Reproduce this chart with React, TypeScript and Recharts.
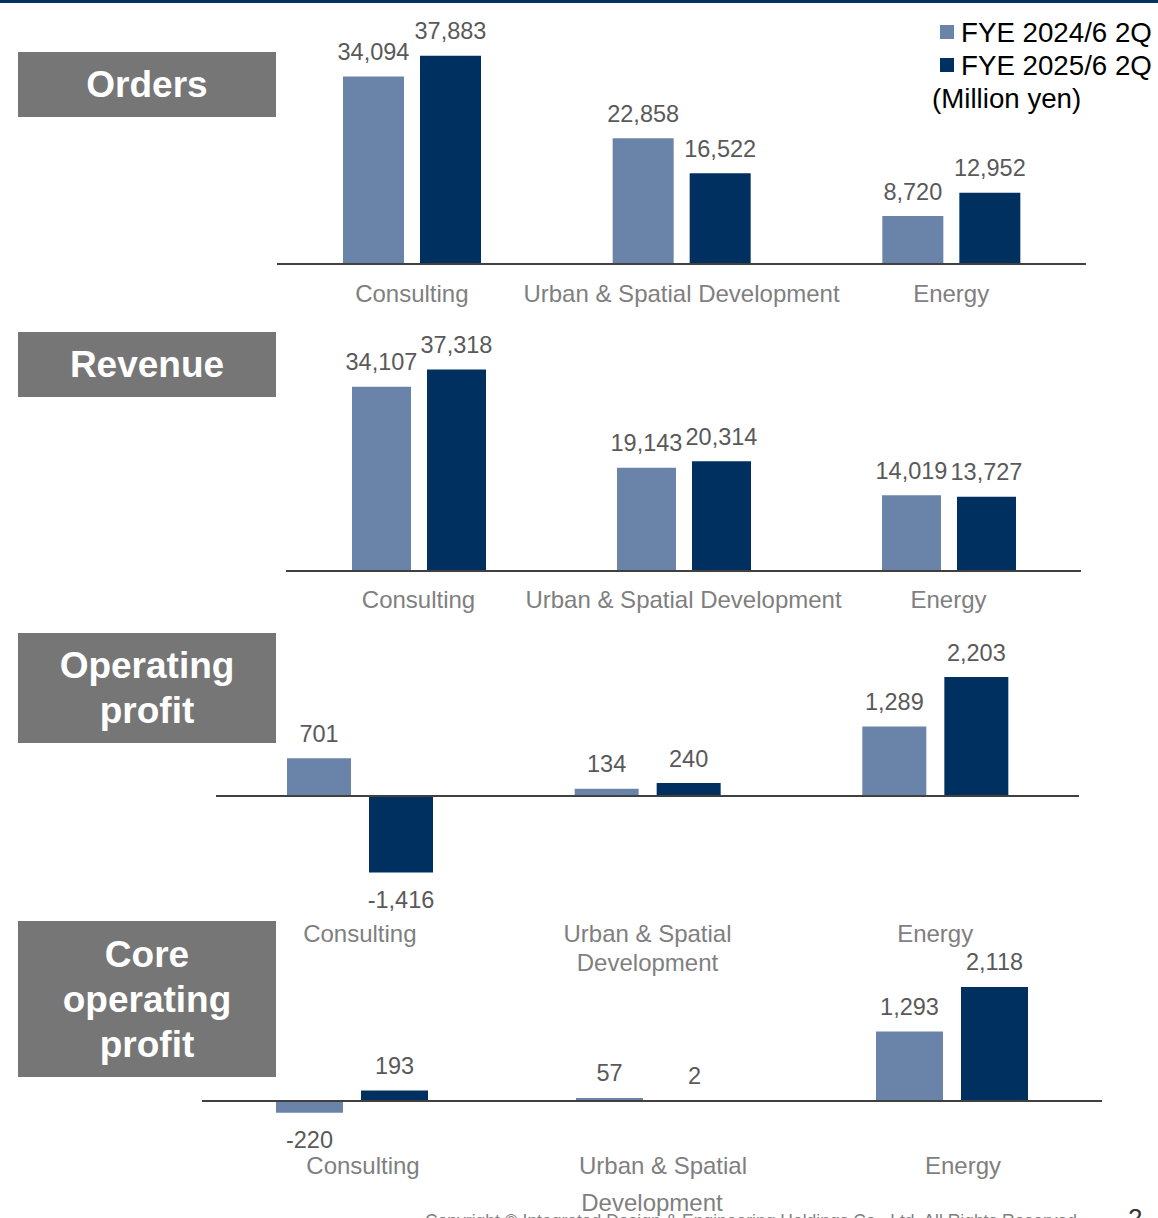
import React from 'react';
import { BarChart, Bar, XAxis, YAxis, ReferenceLine, LabelList, Legend } from 'recharts';

const categories = ['Consulting', 'Urban & Spatial Development', 'Energy'];
const seriesNames = ['FYE 2024/6 2Q', 'FYE 2025/6 2Q'];

const orders2024 = [34094, 22858, 8720];
const orders2025 = [37883, 16522, 12952];
const revenue2024 = [34107, 19143, 14019];
const revenue2025 = [37318, 20314, 13727];
const opProfit2024 = [701, 134, 1289];
const opProfit2025 = [-1416, 240, 2203];
const coreProfit2024 = [-220, 57, 1293];
const coreProfit2025 = [193, 2, 2118];

const LIGHT = '#6A83A9';
const DARK = '#003060';
const FONT = '"Liberation Sans", Arial, sans-serif';

const toRows = (a: number[], b: number[]) =>
    categories.map((name, i) => ({ name, prev: a[i], curr: b[i] }));

// value label above positive bars, below negative ones
const ValueLabel = (props: any) => {
    const vb = props.viewBox ?? props;
    const { x, y, width, height } = vb;
    const top = Math.min(y, y + height);
    const bottom = Math.max(y, y + height);
    const v = Number(props.value);
    const ty = v < 0 ? bottom + 35.5 : top - 16.5;
    return (
        <text x={x + width / 2} y={ty} textAnchor="middle" fill="#595959" fontSize={23.5} fontFamily={FONT}>
            {v.toLocaleString('en-US')}
        </text>
    );
};

// first line may be nudged (dx), the wrapped second line stays on the band centre
const makeTick = (wrap: boolean, lineGap: number, dx: number) => (props: any) => {
    const { x, y, payload } = props;
    const text = String(payload.value);
    const cut = text.lastIndexOf(' ');
    const lines = wrap && text.length > 12 && cut > 0 ? [text.slice(0, cut), text.slice(cut + 1)] : [text];
    return (
        <text x={x + dx} y={y} textAnchor="middle" fill="#7f7f7f" fontSize={24} fontFamily={FONT}>
            {lines.map((l, i) => (
                <tspan key={i} x={i === 0 ? x + dx : x} dy={i === 0 ? 8.5 : lineGap}>{l}</tspan>
            ))}
        </text>
    );
};

const LegendContent = ({ payload }: any) => (
    <div style={{ fontFamily: FONT, fontSize: 27.7, color: '#000', lineHeight: '33px' }}>
        {(payload || []).map((p: any) => (
            <div key={p.value} style={{ display: 'flex', alignItems: 'center', height: 33, whiteSpace: 'nowrap' }}>
                <span style={{ display: 'inline-block', width: 14, height: 14, background: p.color, marginLeft: 8, marginRight: 7 }} />
                {p.value}
            </div>
        ))}
        <div style={{ height: 33, whiteSpace: 'nowrap' }}>(Million yen)</div>
    </div>
);

interface PanelProps {
    top: number;
    height: number;
    left: number;
    right: number;
    marginTop: number;
    axisHeight: number;
    domain: [number, number];
    rows: { name: string; prev: number; curr: number }[];
    barSize: number;
    barGap: number;
    tickMargin: number;
    wrap?: boolean;
    lineGap?: number;
    dx?: number;
    zeroLine?: boolean;
    legend?: boolean;
}

function Panel(p: PanelProps) {
    return (
        <div style={{ position: 'absolute', left: 0, top: p.top }}>
            <BarChart
                width={1158}
                height={p.height}
                data={p.rows}
                margin={{ top: p.marginTop, right: p.right, left: p.left, bottom: 0 }}
                barSize={p.barSize}
                barGap={p.barGap}
            >
                <XAxis
                    dataKey="name"
                    height={p.axisHeight}
                    interval={0}
                    tickLine={false}
                    tickSize={0}
                    tickMargin={p.tickMargin}
                    axisLine={p.zeroLine ? false : { stroke: '#404040', strokeWidth: 2 }}
                    tick={makeTick(!!p.wrap, p.lineGap ?? 29, p.dx ?? 0)}
                />
                <YAxis hide domain={p.domain} />
                {p.zeroLine && <ReferenceLine y={0} stroke="#404040" strokeWidth={2} />}
                {p.legend && (
                    <Legend
                        layout="vertical"
                        align="center"
                        verticalAlign="middle"
                        wrapperStyle={{ left: 932, top: 15.5, width: 226 }}
                        content={LegendContent}
                    />
                )}
                <Bar dataKey="prev" name={seriesNames[0]} fill={LIGHT} isAnimationActive={false}>
                    <LabelList dataKey="prev" content={ValueLabel} />
                </Bar>
                <Bar dataKey="curr" name={seriesNames[1]} fill={DARK} isAnimationActive={false}>
                    <LabelList dataKey="curr" content={ValueLabel} />
                </Bar>
            </BarChart>
        </div>
    );
}

const titleBoxes = [
    { lines: ['Orders'], top: 52, height: 65 },
    { lines: ['Revenue'], top: 332, height: 65 },
    { lines: ['Operating', 'profit'], top: 633, height: 110 },
    { lines: ['Core', 'operating', 'profit'], top: 921, height: 156 },
];

export default function App() {
    return (
        <div style={{ position: 'relative', width: 1158, height: 1218, overflow: 'hidden', background: '#fff', fontFamily: FONT }}>
            <style>{`body{margin:0}`}</style>
            <div style={{ position: 'absolute', left: 0, top: 0, width: 1158, height: 3, background: '#00335F' }} />

            {titleBoxes.map((t) => (
                <div
                    key={t.lines.join(' ')}
                    style={{
                        position: 'absolute',
                        left: 18,
                        top: t.top,
                        width: 258,
                        height: t.height,
                        background: '#767676',
                        color: '#fff',
                        fontWeight: 'bold',
                        fontSize: 37,
                        lineHeight: '45px',
                        display: 'flex',
                        flexDirection: 'column',
                        alignItems: 'center',
                        justifyContent: 'center',
                    }}
                >
                    {t.lines.map((l) => <div key={l}>{l}</div>)}
                </div>
            ))}

            <Panel top={0} height={320} left={277} right={72} marginTop={44} axisHeight={56}
                domain={[0, 40000]} rows={toRows(orders2024, orders2025)} barSize={61} barGap={16}
                tickMargin={29} legend />
            <Panel top={330} height={300} left={286} right={77} marginTop={25} axisHeight={59}
                domain={[0, 40000]} rows={toRows(revenue2024, revenue2025)} barSize={59} barGap={16}
                tickMargin={28} />
            <Panel top={630} height={350} left={216} right={79} marginTop={31} axisHeight={103}
                domain={[-1500, 2500]} rows={toRows(opProfit2024, opProfit2025)} barSize={64} barGap={18}
                tickMargin={56} wrap lineGap={29} zeroLine />
            <Panel top={940} height={278} left={202} right={56} marginTop={26.4} axisHeight={90.1}
                domain={[-500, 2500]} rows={toRows(coreProfit2024, coreProfit2025)} barSize={67} barGap={18}
                tickMargin={38} wrap lineGap={37} dx={11} zeroLine />

            <div style={{ position: 'absolute', left: 425, top: 1211, fontSize: 17.5, color: '#7f7f7f', whiteSpace: 'nowrap' }}>
                Copyright © Integrated Design &amp; Engineering Holdings Co., Ltd. All Rights Reserved.
            </div>
            <div style={{ position: 'absolute', left: 1128, top: 1203, fontSize: 26, color: '#333' }}>2</div>
        </div>
    );
}
